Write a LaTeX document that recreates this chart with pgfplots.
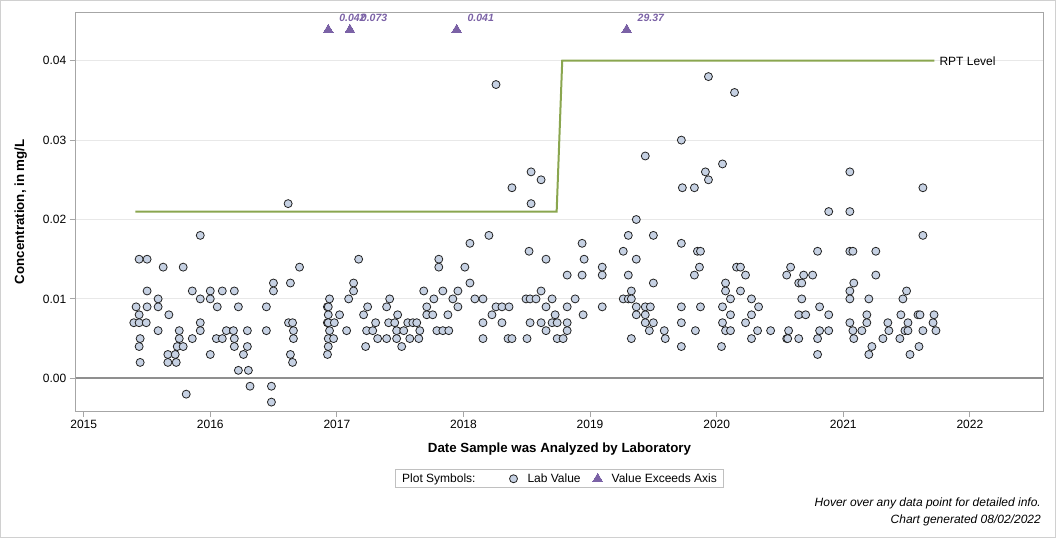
\documentclass[border=0pt]{standalone}
\usepackage{fontspec}
\setmainfont{Liberation Sans}
\usepackage{pgfplots}
\pgfplotsset{compat=1.18}
\usepackage{pgfplotstable}
\definecolor{ptfill}{HTML}{C6D1E3}
\definecolor{ptedge}{HTML}{222222}
\definecolor{tri}{HTML}{7B62A6}
\definecolor{rpt}{HTML}{8AA64F}
\definecolor{framec}{HTML}{A6A6A6}
\definecolor{gridc}{HTML}{E8E8E8}
\definecolor{zeroc}{HTML}{8F8F8F}
\definecolor{outerc}{HTML}{D0D0D0}
\definecolor{legc}{HTML}{C0C0C0}

\pgfplotstableread{
x y
2015.396 0.007
2015.414 0.009
2015.438 0.015
2015.438 0.008
2015.438 0.007
2015.438 0.004
2015.446 0.005
2015.446 0.002
2015.494 0.007
2015.501 0.015
2015.501 0.011
2015.501 0.009
2015.588 0.010
2015.588 0.009
2015.588 0.006
2015.628 0.014
2015.665 0.003
2015.665 0.002
2015.673 0.008
2015.723 0.003
2015.731 0.002
2015.739 0.004
2015.755 0.006
2015.755 0.005
2015.786 0.014
2015.786 0.004
2015.810 -0.002
2015.858 0.011
2015.858 0.005
2015.921 0.018
2015.921 0.010
2015.921 0.007
2015.921 0.006
2016.000 0.011
2016.000 0.010
2016.000 0.003
2016.048 0.005
2016.055 0.009
2016.095 0.011
2016.095 0.005
2016.127 0.006
2016.183 0.006
2016.190 0.011
2016.190 0.005
2016.190 0.004
2016.222 0.009
2016.222 0.001
2016.262 0.003
2016.293 0.006
2016.293 0.004
2016.301 0.001
2016.314 -0.001
2016.443 0.009
2016.443 0.006
2016.483 -0.001
2016.483 -0.003
2016.499 0.012
2016.499 0.011
2016.615 0.022
2016.618 0.007
2016.633 0.012
2016.633 0.003
2016.650 0.007
2016.650 0.002
2016.657 0.006
2016.657 0.005
2016.705 0.014
2016.925 0.009
2016.925 0.007
2016.926 0.003
2016.932 0.009
2016.932 0.008
2016.932 0.007
2016.932 0.005
2016.932 0.004
2016.942 0.010
2016.942 0.006
2016.974 0.005
2016.980 0.007
2017.021 0.008
2017.077 0.006
2017.093 0.010
2017.132 0.012
2017.132 0.011
2017.172 0.015
2017.211 0.008
2017.227 0.004
2017.235 0.006
2017.243 0.009
2017.283 0.006
2017.306 0.007
2017.322 0.005
2017.393 0.009
2017.393 0.005
2017.409 0.007
2017.417 0.010
2017.457 0.007
2017.472 0.006
2017.472 0.005
2017.480 0.008
2017.512 0.004
2017.528 0.006
2017.560 0.007
2017.576 0.005
2017.600 0.007
2017.631 0.007
2017.647 0.005
2017.655 0.006
2017.686 0.011
2017.710 0.009
2017.710 0.008
2017.757 0.008
2017.766 0.010
2017.790 0.006
2017.805 0.015
2017.805 0.014
2017.837 0.011
2017.837 0.006
2017.877 0.008
2017.884 0.006
2017.916 0.010
2017.956 0.011
2017.956 0.009
2018.011 0.014
2018.051 0.017
2018.051 0.012
2018.090 0.010
2018.154 0.010
2018.154 0.007
2018.154 0.005
2018.201 0.018
2018.225 0.008
2018.257 0.037
2018.257 0.009
2018.304 0.009
2018.304 0.007
2018.352 0.005
2018.360 0.009
2018.383 0.024
2018.383 0.005
2018.494 0.010
2018.502 0.005
2018.518 0.016
2018.526 0.010
2018.526 0.007
2018.534 0.026
2018.534 0.022
2018.573 0.010
2018.613 0.025
2018.613 0.011
2018.613 0.007
2018.652 0.015
2018.652 0.009
2018.652 0.006
2018.700 0.010
2018.700 0.007
2018.724 0.008
2018.740 0.007
2018.740 0.005
2018.787 0.005
2018.819 0.013
2018.819 0.009
2018.819 0.007
2018.819 0.006
2018.882 0.010
2018.937 0.017
2018.937 0.013
2018.945 0.008
2018.953 0.015
2019.096 0.014
2019.096 0.013
2019.096 0.009
2019.262 0.016
2019.262 0.010
2019.302 0.018
2019.302 0.013
2019.302 0.010
2019.326 0.011
2019.326 0.010
2019.326 0.005
2019.365 0.020
2019.365 0.015
2019.365 0.009
2019.365 0.008
2019.436 0.028
2019.436 0.009
2019.436 0.008
2019.436 0.007
2019.468 0.006
2019.476 0.009
2019.500 0.018
2019.500 0.012
2019.500 0.007
2019.586 0.006
2019.594 0.005
2019.721 0.030
2019.721 0.017
2019.721 0.009
2019.721 0.007
2019.721 0.004
2019.729 0.024
2019.824 0.024
2019.824 0.013
2019.832 0.006
2019.848 0.016
2019.864 0.014
2019.872 0.016
2019.872 0.009
2019.911 0.026
2019.935 0.038
2019.935 0.025
2020.038 0.004
2020.046 0.027
2020.046 0.009
2020.046 0.007
2020.070 0.012
2020.070 0.011
2020.070 0.006
2020.109 0.010
2020.109 0.008
2020.109 0.006
2020.141 0.036
2020.157 0.014
2020.188 0.014
2020.188 0.011
2020.228 0.013
2020.228 0.007
2020.275 0.010
2020.275 0.008
2020.275 0.005
2020.323 0.006
2020.331 0.009
2020.426 0.006
2020.553 0.013
2020.553 0.005
2020.561 0.005
2020.568 0.006
2020.584 0.014
2020.648 0.012
2020.648 0.008
2020.648 0.005
2020.672 0.012
2020.672 0.010
2020.687 0.013
2020.703 0.008
2020.758 0.013
2020.797 0.016
2020.797 0.005
2020.797 0.003
2020.813 0.009
2020.813 0.006
2020.885 0.021
2020.885 0.008
2020.885 0.006
2021.052 0.026
2021.052 0.021
2021.052 0.016
2021.052 0.011
2021.052 0.010
2021.052 0.007
2021.076 0.016
2021.076 0.006
2021.083 0.012
2021.083 0.005
2021.147 0.006
2021.186 0.008
2021.186 0.007
2021.202 0.010
2021.202 0.003
2021.226 0.004
2021.257 0.016
2021.257 0.013
2021.313 0.005
2021.352 0.007
2021.360 0.006
2021.447 0.005
2021.455 0.008
2021.471 0.010
2021.487 0.006
2021.500 0.011
2021.511 0.007
2021.511 0.006
2021.527 0.003
2021.590 0.008
2021.598 0.004
2021.606 0.008
2021.629 0.024
2021.629 0.018
2021.629 0.006
2021.709 0.007
2021.717 0.008
2021.732 0.006
}\labdata

\pgfplotstableread{
x y lab
2016.932 0.0439 0.042
2017.103 0.0439 0.073
2017.946 0.0439 0.041
2019.289 0.0439 29.37
}\exceed

\pgfplotstableread{
x y
2015.408 0.021
2018.736 0.021
2018.780 0.040
2021.719 0.040
}\rptline

\begin{document}
\begin{tikzpicture}
\path[use as bounding box] (0bp,0bp) rectangle (1056bp,538bp);
\draw[outerc, line width=1bp] (0.5bp,0.5bp) rectangle (1055.5bp,537.5bp);
\begin{axis}[
  at={(75.7bp,127bp)}, anchor=south west,
  scale only axis, width=967.6bp, height=398.7bp,
  xmin=2014.937, xmax=2022.58, ymin=-0.00412, ymax=0.0461,
  clip=false,
  axis line style={draw=framec, line width=1bp},
  xtick={2015,2016,...,2022},
  ytick={0,0.01,0.02,0.03,0.04},
  scaled y ticks=false, scaled x ticks=false,
  xtick pos=bottom, ytick pos=left,
  tick align=outside, major tick length=6bp,
  tick style={draw=framec, line width=1bp},
  ymajorgrids, major grid style={draw=gridc, line width=1bp},
  /pgf/number format/assume math mode=true,
  xticklabel style={font=\fontsize{12bp}{14bp}\selectfont, /pgf/number format/1000 sep={}},
  yticklabel style={font=\fontsize{12bp}{14bp}\selectfont, /pgf/number format/.cd, fixed, fixed zerofill, precision=2},
  xlabel={Date Sample was Analyzed by Laboratory},
  ylabel={Concentration, in mg/L},
  xlabel style={font=\fontsize{13.3bp}{15bp}\selectfont\bfseries, at={(axis description cs:0.5,-0.0953)}, anchor=center},
  ylabel style={font=\fontsize{13.3bp}{15bp}\selectfont\bfseries, at={(axis description cs:-0.0569,0.5)}, anchor=center, rotate=0},
  legend columns=3,
  legend style={at={(axis description cs:0.5,-0.1693)}, anchor=center, draw=legc, line width=0.8bp,
    font=\fontsize{12bp}{14bp}\selectfont, inner xsep=7bp, inner ysep=4bp,
    nodes={inner sep=0bp}, column sep=0bp},
  legend cell align=left,
  legend image code/.code={\path[draw=none, fill=none] (-7bp,0bp) -- (7bp,0bp); \draw[#1] plot coordinates {(0bp,0bp)};},
]
\addlegendimage{empty legend}
\addlegendentry{Plot Symbols:\hspace*{31bp}}
\addplot[forget plot, draw=zeroc, line width=2bp] coordinates {(2014.937,0) (2022.58,0)};
\addplot[forget plot, draw=rpt, line width=2bp] table[x=x,y=y] {\rptline};
\addplot[only marks, mark=*, mark size=4bp, mark options={fill=ptfill, draw=ptedge, line width=0.8bp}]
  table[x=x,y=y] {\labdata};
\addlegendentry{\hspace*{7bp}Lab Value\hspace*{10bp}}
\addplot[only marks, mark=triangle*, mark size=5.6bp, mark options={fill=tri, draw=tri, line width=0bp},
  point meta=explicit symbolic,
  nodes near coords,
  every node near coord/.style={anchor=base west, inner sep=0pt, xshift=11bp, yshift=8bp,
     font=\fontsize{10.5bp}{12bp}\selectfont\bfseries\itshape, text=tri}]
  table[x=x,y=y,meta=lab] {\exceed};
\addlegendentry{\hspace*{7bp}Value Exceeds Axis}
\node[anchor=west, inner sep=0pt, xshift=5bp, font=\fontsize{12bp}{14bp}\selectfont] at (axis cs:2021.719,0.040) {RPT Level};
\end{axis}
\node[anchor=base east, inner sep=0pt, font=\fontsize{12bp}{14bp}\selectfont\itshape] at (1041bp,32bp) {Hover over any data point for detailed info.};
\node[anchor=base east, inner sep=0pt, font=\fontsize{12bp}{14bp}\selectfont\itshape] at (1041bp,15bp) {Chart generated 08/02/2022};
\end{tikzpicture}
\end{document}
